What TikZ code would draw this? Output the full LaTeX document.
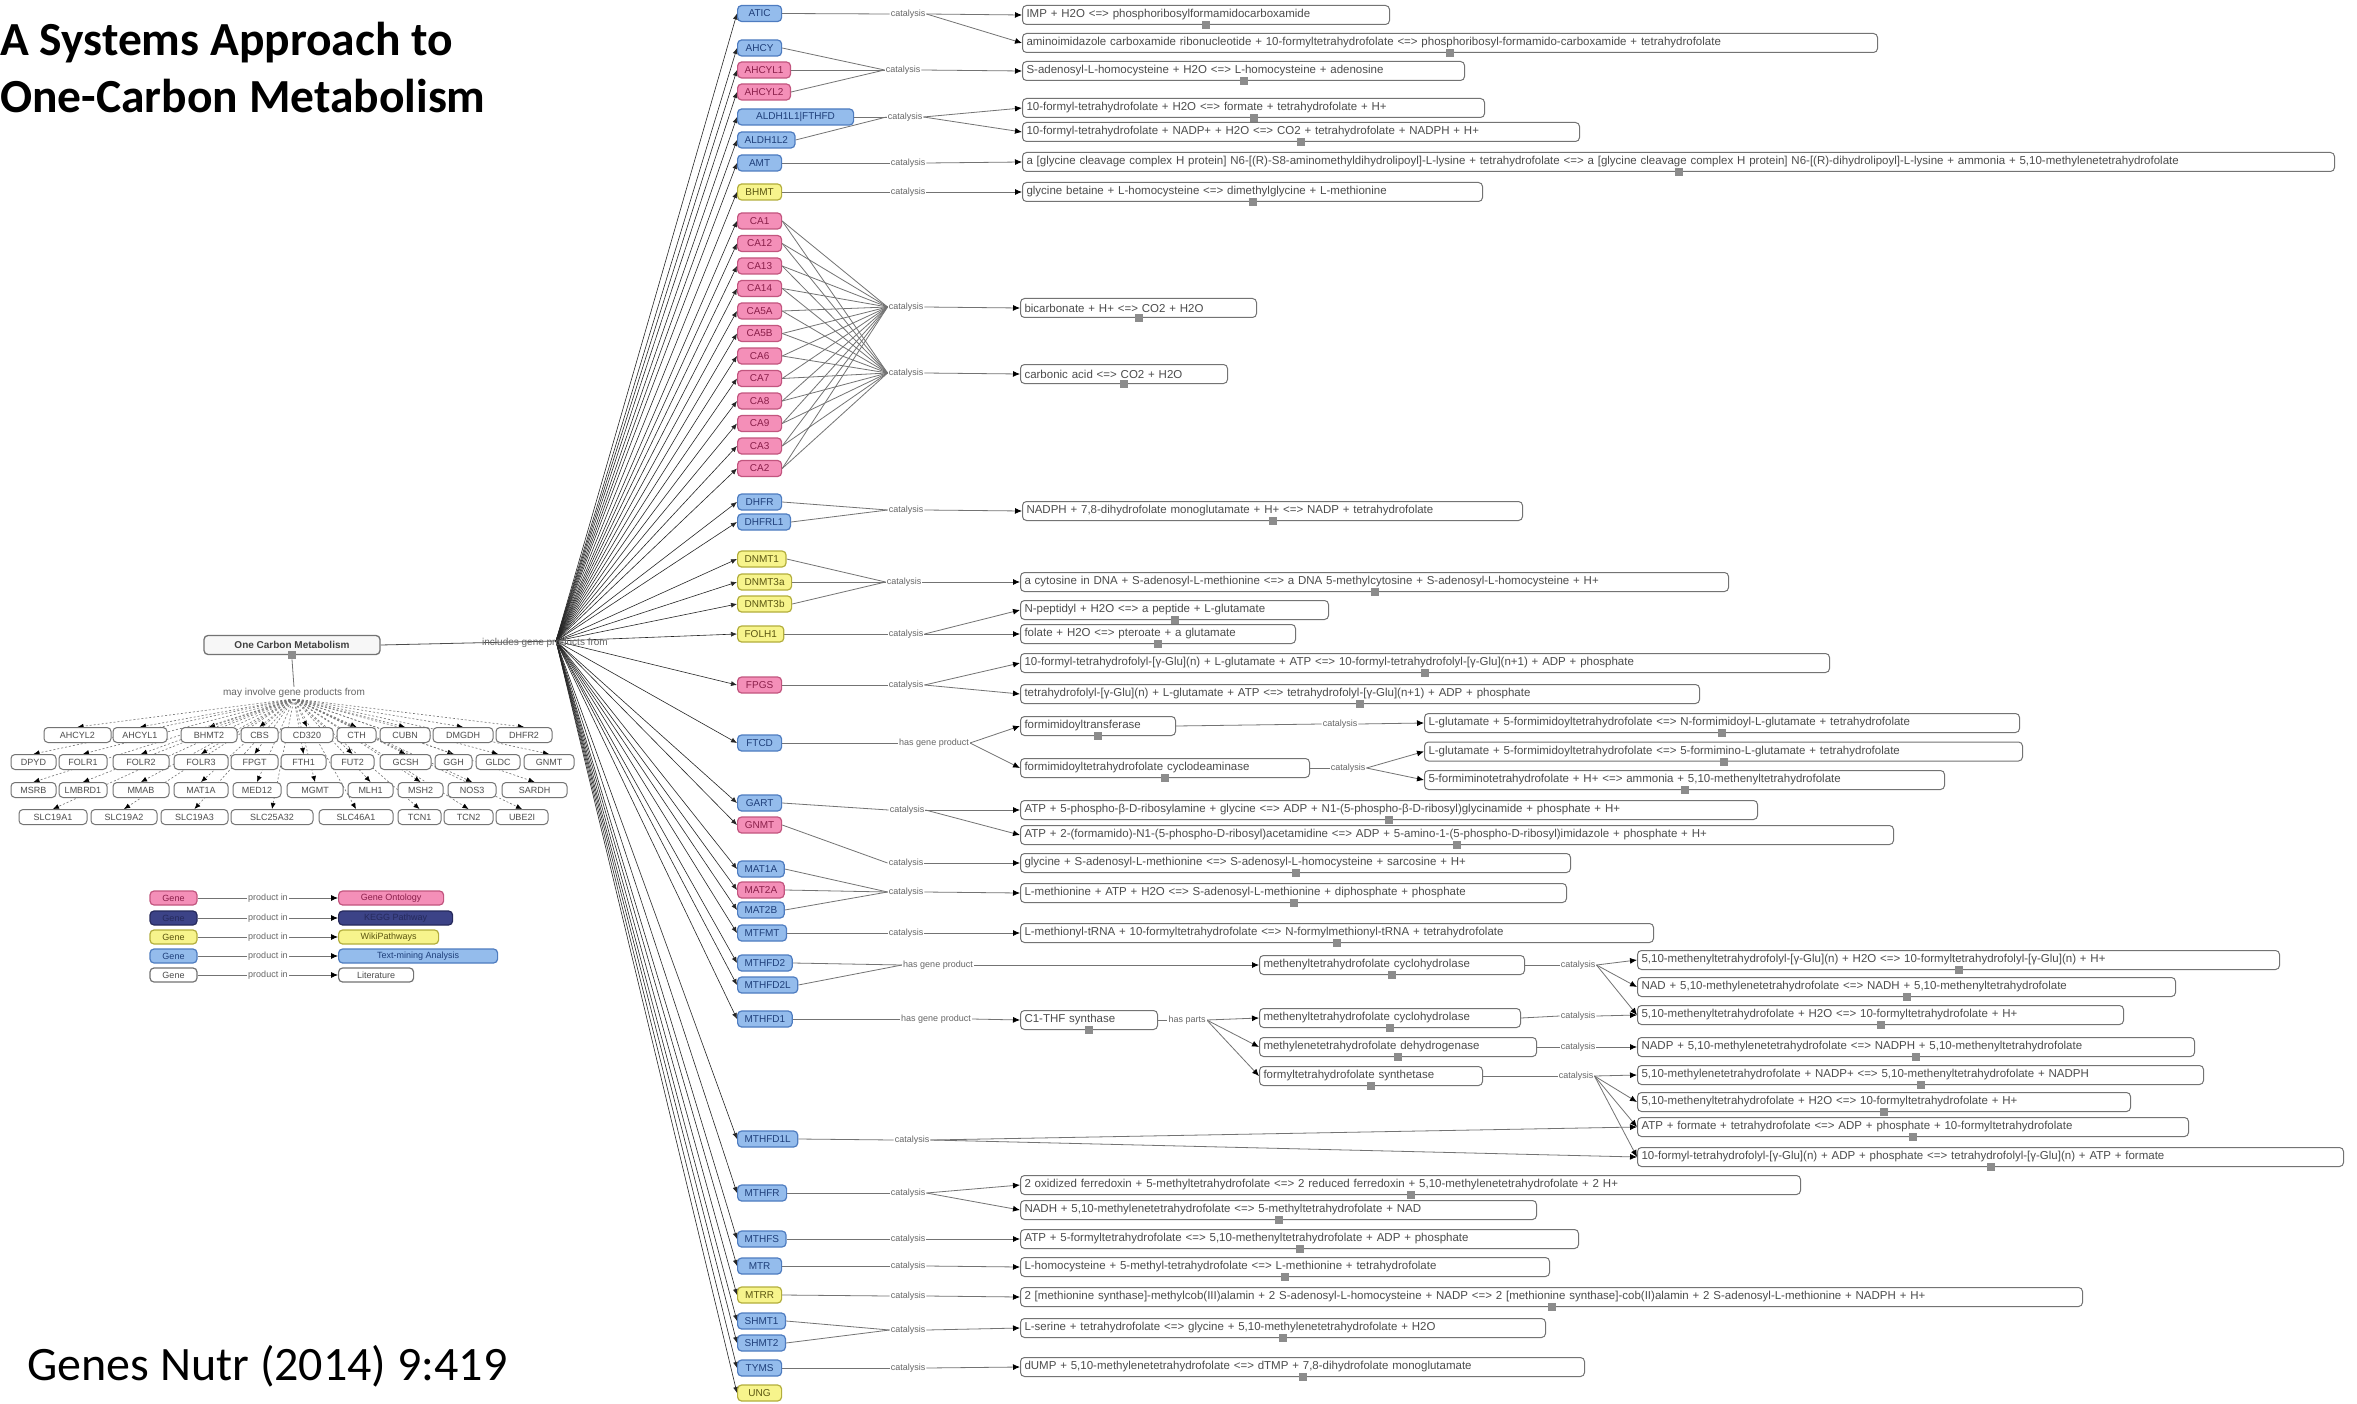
\documentclass[tikz,border=0pt]{standalone}
\usepackage{fontspec}
\setmainfont{Liberation Sans}
\newfontfamily\carl{Carlito}
\usetikzlibrary{arrows.meta}
\pgfdeclarelayer{bg}
\pgfsetlayers{bg,main}
\definecolor{pinkF}{HTML}{F48FB8}
\definecolor{pinkD}{HTML}{C2557F}
\definecolor{pinkT}{HTML}{8A1F4A}
\definecolor{blueF}{HTML}{94BCEC}
\definecolor{blueD}{HTML}{4E7CC0}
\definecolor{blueT}{HTML}{1F3F7A}
\definecolor{yelF}{HTML}{F7F48C}
\definecolor{yelD}{HTML}{B3AE3C}
\definecolor{yelT}{HTML}{5A5510}
\definecolor{navF}{HTML}{3C4387}
\definecolor{navD}{HTML}{262A5C}
\tikzset{
 gene/.style={rectangle, rounded corners=4pt, line width=1.2pt, font=\fontsize{10}{12}\selectfont, inner xsep=7pt, inner ysep=2pt, minimum height=16pt, minimum width=44pt, anchor=west},
 gpink/.style={gene, fill=pinkF, draw=pinkD, text=pinkT},
 gblue/.style={gene, fill=blueF, draw=blueD, text=blueT},
 gyel/.style={gene, fill=yelF, draw=yelD, text=yelT},
 gnav/.style={gene, fill=navF, draw=navD, text=navD},
 gwhite/.style={gene, fill=white, draw=black!55, text=black!70},
 rxn/.style={rectangle, rounded corners=4pt, draw=black!55, line width=1pt, fill=white, font=\fontsize{11.5}{13}\selectfont, text=black!70, inner xsep=4pt, inner ysep=2pt, minimum height=19pt, anchor=west, align=left},
 hdl/.style={rectangle, fill=black!45, minimum size=8pt, inner sep=0pt},
 lab/.style={font=\fontsize{9}{11}\selectfont, text=black!60, fill=white, inner sep=1pt},
 edge/.style={draw=black!55, line width=0.8pt},
 arr/.style={edge, -{Latex[length=7pt,width=6pt,color=black]}},
 fan/.style={draw=black!85, line width=0.6pt, -{Latex[length=6pt,width=5pt]}},
 gfan/.style={draw=black!55, line width=0.6pt, dash pattern=on 2pt off 2pt, -{Latex[length=6pt,width=5pt,color=black]}},
 gbox/.style={rectangle, rounded corners=4pt, draw=black!55, line width=1pt, fill=white, font=\fontsize{9}{11}\selectfont, text=black!70, inner xsep=2pt, inner ysep=2pt, minimum height=15pt},
}
\newcommand\rxnbox[5]{\node[rxn,text width=\dimexpr #4pt-8pt\relax] (#1) at (#2,#3) {#5};\node[hdl] at (#1.south) {};}
\begin{document}
\begin{tikzpicture}[x=1pt,y=-1pt]
\useasboundingbox (0,0) rectangle (2357,1404);
\begin{pgfonlayer}{bg}
\fill[white] (0,0) rectangle (2357,1404);
\end{pgfonlayer}

% ---------- titles ----------
\node[anchor=base west, inner sep=0pt, font=\carl\bfseries\fontsize{47.5}{56}\selectfont] (t1) at (0,56) {A Systems Approach to};
\node[anchor=base west, inner sep=0pt, font=\carl\bfseries\fontsize{47.5}{56}\selectfont] (t2) at (0,113) {One-Carbon Metabolism};
\node[anchor=base west, inner sep=0pt, font=\carl\fontsize{48}{56}\selectfont] (cite) at (27,1380) {Genes Nutr (2014) 9:419};

% ---------- left root node ----------
\node[rectangle, rounded corners=4pt, draw=black!55, line width=1.3pt, fill=black!3, font=\bfseries\fontsize{10}{12}\selectfont, text=black!75, minimum width=176pt, minimum height=19pt] (OCM) at (292,645) {One Carbon Metabolism};
\node[hdl] (OCMh) at (OCM.south) {};
\node[font=\fontsize{10}{12}\selectfont, text=black!60, inner sep=1pt] (TL) at (545,643) {includes gene products from};
\coordinate (O) at (556,641);
\node[lab, font=\fontsize{10}{12}\selectfont] (GL) at (294,693) {may involve gene products from};

% ---------- gene grid ----------
\node[gbox, minimum width=67pt] (a1) at (77.5,735) {AHCYL2};
\node[gbox, minimum width=54pt] (a2) at (140,735) {AHCYL1};
\node[gbox, minimum width=56pt] (a3) at (209,735) {BHMT2};
\node[gbox, minimum width=37pt] (a4) at (259.5,735) {CBS};
\node[gbox, minimum width=52pt] (a5) at (307,735) {CD320};
\node[gbox, minimum width=39pt] (a6) at (356.5,735) {CTH};
\node[gbox, minimum width=50pt] (a7) at (405,735) {CUBN};
\node[gbox, minimum width=60pt] (a8) at (463,735) {DMGDH};
\node[gbox, minimum width=56pt] (a9) at (524,735) {DHFR2};
\node[gbox, minimum width=45pt] (b1) at (33.5,762) {DPYD};
\node[gbox, minimum width=48pt] (b2) at (83,762) {FOLR1};
\node[gbox, minimum width=56pt] (b3) at (141,762) {FOLR2};
\node[gbox, minimum width=54pt] (b4) at (201,762) {FOLR3};
\node[gbox, minimum width=47pt] (b5) at (254.5,762) {FPGT};
\node[gbox, minimum width=45pt] (b6) at (303.5,762) {FTH1};
\node[gbox, minimum width=43pt] (b7) at (352.5,762) {FUT2};
\node[gbox, minimum width=51pt] (b8) at (405.5,762) {GCSH};
\node[gbox, minimum width=37pt] (b9) at (453.5,762) {GGH};
\node[gbox, minimum width=44pt] (b10) at (498,762) {GLDC};
\node[gbox, minimum width=50pt] (b11) at (549,762) {GNMT};
\node[gbox, minimum width=45pt] (c1) at (33.5,790) {MSRB};
\node[gbox, minimum width=48pt] (c2) at (83,790) {LMBRD1};
\node[gbox, minimum width=56pt] (c3) at (141,790) {MMAB};
\node[gbox, minimum width=54pt] (c4) at (201,790) {MAT1A};
\node[gbox, minimum width=48pt] (c5) at (257,790) {MED12};
\node[gbox, minimum width=56pt] (c6) at (315,790) {MGMT};
\node[gbox, minimum width=45pt] (c7) at (370.5,790) {MLH1};
\node[gbox, minimum width=45pt] (c8) at (420.5,790) {MSH2};
\node[gbox, minimum width=48pt] (c9) at (472,790) {NOS3};
\node[gbox, minimum width=65pt] (c10) at (534.5,790) {SARDH};
\node[gbox, minimum width=68pt] (d1) at (53,817) {SLC19A1};
\node[gbox, minimum width=66pt] (d2) at (124,817) {SLC19A2};
\node[gbox, minimum width=67pt] (d3) at (194.5,817) {SLC19A3};
\node[gbox, minimum width=82pt] (d4) at (272,817) {SLC25A32};
\node[gbox, minimum width=74pt] (d5) at (356,817) {SLC46A1};
\node[gbox, minimum width=43pt] (d6) at (419.5,817) {TCN1};
\node[gbox, minimum width=49pt] (d7) at (468.5,817) {TCN2};
\node[gbox, minimum width=52pt] (d8) at (522,817) {UBE2I};

% ---------- legend ----------
\node[gpink, anchor=center, minimum width=47pt, minimum height=14pt, font=\fontsize{9}{11}\selectfont] (L1a) at (173.5,898) {Gene};
\node[gnav, anchor=center, minimum width=47pt, minimum height=14pt, font=\fontsize{9}{11}\selectfont] (L2a) at (173.5,918) {Gene};
\node[gyel, anchor=center, minimum width=47pt, minimum height=14pt, font=\fontsize{9}{11}\selectfont] (L3a) at (173.5,937) {Gene};
\node[gblue, anchor=center, minimum width=47pt, minimum height=14pt, font=\fontsize{9}{11}\selectfont] (L4a) at (173.5,956) {Gene};
\node[gwhite, anchor=center, minimum width=47pt, minimum height=14pt, font=\fontsize{9}{11}\selectfont] (L5a) at (173.5,975) {Gene};
\node[gpink, minimum width=105pt, minimum height=14pt, font=\fontsize{9}{11}\selectfont] (L1b) at (338,898) {Gene Ontology};
\node[gnav, minimum width=114pt, minimum height=14pt, font=\fontsize{9}{11}\selectfont] (L2b) at (338,918) {KEGG Pathway};
\node[gyel, minimum width=100pt, minimum height=14pt, font=\fontsize{9}{11}\selectfont] (L3b) at (338,937) {WikiPathways};
\node[gblue, minimum width=159pt, minimum height=14pt, font=\fontsize{9}{11}\selectfont] (L4b) at (338,956) {Text-mining Analysis};
\node[gwhite, minimum width=75pt, minimum height=14pt, font=\fontsize{9}{11}\selectfont] (L5b) at (338,975) {Literature};
\foreach \r/\yy in {1/898,2/918,3/937,4/956,5/975}{
  \node[lab] (Lp\r) at (268,\yy) {product in};
  \begin{pgfonlayer}{bg}
  \draw[arr] (L\r a.east) -- (L\r b.west);
  \end{pgfonlayer}
}

% ---------- gene column ----------
\node[gblue] (ATIC) at (737,13.5) {ATIC};
\node[gblue] (AHCY) at (737,48) {AHCY};
\node[gpink] (AHCYLa) at (737,70) {AHCYL1};
\node[gpink] (AHCYLb) at (737,92) {AHCYL2};
\node[gblue, minimum width=116pt] (ALDHa) at (737,117) {ALDH1L1|FTHFD};
\node[gblue] (ALDHb) at (737,140) {ALDH1L2};
\node[gblue] (AMT) at (737,163) {AMT};
\node[gyel] (BHMT) at (737,192) {BHMT};
\foreach \i/\t [count=\k from 0] in {a/CA1,b/CA12,c/CA13,d/CA14,e/CA5A,f/CA5B,g/CA6,h/CA7,i/CA8,j/CA9,k/CA3,l/CA2}
  \node[gpink] (CA\i) at (737,{221+22.5*\k}) {\t};
\node[gblue] (DHFR) at (737,502) {DHFR};
\node[gblue] (DHFRL) at (737,522) {DHFRL1};
\node[gyel] (DNMTa) at (737,559) {DNMT1};
\node[gyel] (DNMTb) at (737,582) {DNMT3a};
\node[gyel] (DNMTc) at (737,604) {DNMT3b};
\node[gyel] (FOLH) at (737,634) {FOLH1};
\node[gpink] (FPGS) at (737,685) {FPGS};
\node[gblue] (FTCD) at (737,743) {FTCD};
\node[gblue] (GART) at (737,803) {GART};
\node[gpink] (GNMT) at (737,825) {GNMT};
\node[gblue] (MATa) at (737,869) {MAT1A};
\node[gpink] (MATb) at (737,890) {MAT2A};
\node[gblue] (MATc) at (737,910) {MAT2B};
\node[gblue] (MTFMT) at (737,933) {MTFMT};
\node[gblue] (MTHFDb) at (737,963) {MTHFD2};
\node[gblue] (MTHFDc) at (737,985) {MTHFD2L};
\node[gblue] (MTHFDa) at (737,1019) {MTHFD1};
\node[gblue] (MTHFDL) at (737,1139) {MTHFD1L};
\node[gblue] (MTHFR) at (737,1193) {MTHFR};
\node[gblue] (MTHFS) at (737,1239) {MTHFS};
\node[gblue] (MTR) at (737,1266) {MTR};
\node[gyel] (MTRR) at (737,1295) {MTRR};
\node[gblue] (SHMTa) at (737,1321) {SHMT1};
\node[gblue] (SHMTb) at (737,1343) {SHMT2};
\node[gblue] (TYMS) at (737,1368) {TYMS};
\node[gyel] (UNG) at (737,1393) {UNG};

% ---------- reaction / product boxes ----------
\rxnbox{R1}{1022}{15}{367}{IMP + H2O <=> phosphoribosylformamidocarboxamide}
\rxnbox{R2}{1022}{43}{855}{aminoimidazole carboxamide ribonucleotide + 10-formyltetrahydrofolate <=> phosphoribosyl-formamido-carboxamide + tetrahydrofolate}
\rxnbox{R3}{1022}{71}{442}{S-adenosyl-L-homocysteine + H2O <=> L-homocysteine + adenosine}
\rxnbox{R4}{1022}{108}{462}{10-formyl-tetrahydrofolate + H2O <=> formate + tetrahydrofolate + H+}
\rxnbox{R5}{1022}{132}{557}{10-formyl-tetrahydrofolate + NADP+ + H2O <=> CO2 + tetrahydrofolate + NADPH + H+}
\rxnbox{R6}{1022}{162}{1312}{a [glycine cleavage complex H protein] N6-[(R)-S8-aminomethyldihydrolipoyl]-L-lysine + tetrahydrofolate <=> a [glycine cleavage complex H protein] N6-[(R)-dihydrolipoyl]-L-lysine + ammonia + 5,10-methylenetetrahydrofolate}
\rxnbox{R7}{1022}{192}{460}{glycine betaine + L-homocysteine <=> dimethylglycine + L-methionine}
\rxnbox{R8}{1020}{308}{236}{bicarbonate + H+ <=> CO2 + H2O}
\rxnbox{R9}{1020}{374}{207}{carbonic acid <=> CO2 + H2O}
\rxnbox{R10}{1022}{511}{500}{NADPH + 7,8-dihydrofolate monoglutamate + H+ <=> NADP + tetrahydrofolate}
\rxnbox{R11}{1020}{582}{708}{a cytosine in DNA + S-adenosyl-L-methionine <=> a DNA 5-methylcytosine + S-adenosyl-L-homocysteine + H+}
\rxnbox{R12}{1020}{610}{308}{N-peptidyl + H2O <=> a peptide + L-glutamate}
\rxnbox{R13}{1020}{634}{275}{folate + H2O <=> pteroate + a glutamate}
\rxnbox{R14}{1020}{663}{809}{10-formyl-tetrahydrofolyl-[γ-Glu](n) + L-glutamate + ATP <=> 10-formyl-tetrahydrofolyl-[γ-Glu](n+1) + ADP + phosphate}
\rxnbox{R15}{1020}{694}{679}{tetrahydrofolyl-[γ-Glu](n) + L-glutamate + ATP <=> tetrahydrofolyl-[γ-Glu](n+1) + ADP + phosphate}
\rxnbox{E1}{1020}{726}{155}{formimidoyltransferase}
\rxnbox{E2}{1020}{768}{289}{formimidoyltetrahydrofolate cyclodeaminase}
\rxnbox{R16}{1424}{723}{595}{L-glutamate + 5-formimidoyltetrahydrofolate <=> N-formimidoyl-L-glutamate + tetrahydrofolate}
\rxnbox{R17}{1424}{751.5}{598}{L-glutamate + 5-formimidoyltetrahydrofolate <=> 5-formimino-L-glutamate + tetrahydrofolate}
\rxnbox{R18}{1424}{780}{520}{5-formiminotetrahydrofolate + H+ <=> ammonia + 5,10-methenyltetrahydrofolate}
\rxnbox{R19}{1020}{810}{737}{ATP + 5-phospho-β-D-ribosylamine + glycine <=> ADP + N1-(5-phospho-β-D-ribosyl)glycinamide + phosphate + H+}
\rxnbox{R20}{1020}{835}{873}{ATP + 2-(formamido)-N1-(5-phospho-D-ribosyl)acetamidine <=> ADP + 5-amino-1-(5-phospho-D-ribosyl)imidazole + phosphate + H+}
\rxnbox{R21}{1020}{863}{550}{glycine + S-adenosyl-L-methionine <=> S-adenosyl-L-homocysteine + sarcosine + H+}
\rxnbox{R22}{1020}{893}{546}{L-methionine + ATP + H2O <=> S-adenosyl-L-methionine + diphosphate + phosphate}
\rxnbox{R23}{1020}{933}{633}{L-methionyl-tRNA + 10-formyltetrahydrofolate <=> N-formylmethionyl-tRNA + tetrahydrofolate}
\rxnbox{E3}{1259}{965}{265}{methenyltetrahydrofolate cyclohydrolase}
\rxnbox{E4}{1020}{1020}{137}{C1-THF synthase}
\rxnbox{E5}{1259}{1018}{261}{methenyltetrahydrofolate cyclohydrolase}
\rxnbox{E6}{1259}{1047}{277}{methylenetetrahydrofolate dehydrogenase}
\rxnbox{E7}{1259}{1076}{223}{formyltetrahydrofolate synthetase}
\rxnbox{R24}{1637}{960}{642}{5,10-methenyltetrahydrofolyl-[γ-Glu](n) + H2O <=> 10-formyltetrahydrofolyl-[γ-Glu](n) + H+}
\rxnbox{R25}{1637}{987}{538}{NAD + 5,10-methylenetetrahydrofolate <=> NADH + 5,10-methenyltetrahydrofolate}
\rxnbox{R26}{1637}{1015}{486}{5,10-methenyltetrahydrofolate + H2O <=> 10-formyltetrahydrofolate + H+}
\rxnbox{R27}{1637}{1047}{557}{NADP + 5,10-methylenetetrahydrofolate <=> NADPH + 5,10-methenyltetrahydrofolate}
\rxnbox{R28}{1637}{1075}{566}{5,10-methylenetetrahydrofolate + NADP+ <=> 5,10-methenyltetrahydrofolate + NADPH}
\rxnbox{R29}{1637}{1102}{493}{5,10-methenyltetrahydrofolate + H2O <=> 10-formyltetrahydrofolate + H+}
\rxnbox{R30}{1637}{1127}{551}{ATP + formate + tetrahydrofolate <=> ADP + phosphate + 10-formyltetrahydrofolate}
\rxnbox{R31}{1637}{1157}{706}{10-formyl-tetrahydrofolyl-[γ-Glu](n) + ADP + phosphate <=> tetrahydrofolyl-[γ-Glu](n) + ATP + formate}
\rxnbox{R32}{1020}{1185}{780}{2 oxidized ferredoxin + 5-methyltetrahydrofolate <=> 2 reduced ferredoxin + 5,10-methylenetetrahydrofolate + 2 H+}
\rxnbox{R33}{1020}{1210}{516}{NADH + 5,10-methylenetetrahydrofolate <=> 5-methyltetrahydrofolate + NAD}
\rxnbox{R34}{1020}{1239}{558}{ATP + 5-formyltetrahydrofolate <=> 5,10-methenyltetrahydrofolate + ADP + phosphate}
\rxnbox{R35}{1020}{1267}{529}{L-homocysteine + 5-methyl-tetrahydrofolate <=> L-methionine + tetrahydrofolate}
\rxnbox{R36}{1020}{1297}{1062}{2 [methionine synthase]-methylcob(III)alamin + 2 S-adenosyl-L-homocysteine + NADP <=> 2 [methionine synthase]-cob(II)alamin + 2 S-adenosyl-L-methionine + NADPH + H+}
\rxnbox{R37}{1020}{1328}{525}{L-serine + tetrahydrofolate <=> glycine + 5,10-methylenetetrahydrofolate + H2O}
\rxnbox{R38}{1020}{1367}{564}{dUMP + 5,10-methylenetetrahydrofolate <=> dTMP + 7,8-dihydrofolate monoglutamate}

% ---------- edge labels ----------
\node[lab] (lATIC) at (908,14) {catalysis};
\node[lab] (lAHCY) at (903,70) {catalysis};
\node[lab] (lALDH) at (905,117) {catalysis};
\node[lab] (lAMT) at (908,163) {catalysis};
\node[lab] (lBHMT) at (908,192) {catalysis};
\node[lab] (lCAa) at (906,307) {catalysis};
\node[lab] (lCAb) at (906,373) {catalysis};
\node[lab] (lDHFR) at (906,510) {catalysis};
\node[lab] (lDNMT) at (904,582) {catalysis};
\node[lab] (lFOLH) at (906,634) {catalysis};
\node[lab] (lFPGS) at (906,685) {catalysis};
\node[lab] (lFTCD) at (934,743) {has gene product};
\node[lab] (lE1) at (1340,724) {catalysis};
\node[lab] (lE2) at (1348,768) {catalysis};
\node[lab] (lGART) at (907,810) {catalysis};
\node[lab] (lGNMT) at (906,863) {catalysis};
\node[lab] (lMAT) at (906,892) {catalysis};
\node[lab] (lMTFMT) at (906,933) {catalysis};
\node[lab] (lMTHFDb) at (938,965) {has gene product};
\node[lab] (lE3) at (1578,965) {catalysis};
\node[lab] (lMTHFDa) at (936,1019) {has gene product};
\node[lab] (lE4) at (1187,1020) {has parts};
\node[lab] (lE5) at (1578,1016) {catalysis};
\node[lab] (lE6) at (1578,1047) {catalysis};
\node[lab] (lE7) at (1576,1076) {catalysis};
\node[lab] (lMTHFDL) at (912,1140) {catalysis};
\node[lab] (lMTHFR) at (908,1193) {catalysis};
\node[lab] (lMTHFS) at (908,1239) {catalysis};
\node[lab] (lMTR) at (908,1266) {catalysis};
\node[lab] (lMTRR) at (908,1296) {catalysis};
\node[lab] (lSHMT) at (908,1330) {catalysis};
\node[lab] (lTYMS) at (908,1368) {catalysis};

% ---------- connectors ----------
\begin{pgfonlayer}{bg}
\draw[draw=black!70, line width=0.8pt] (OCM.east) -- (O);
\foreach \g in {ATIC,AHCY,AHCYLa,AHCYLb,ALDHa,ALDHb,AMT,BHMT,CAa,CAb,CAc,CAd,CAe,CAf,CAg,CAh,CAi,CAj,CAk,CAl,DHFR,DHFRL,DNMTa,DNMTb,DNMTc,FOLH,FPGS,FTCD,GART,GNMT,MATa,MATb,MATc,MTFMT,MTHFDb,MTHFDc,MTHFDa,MTHFDL,MTHFR,MTHFS,MTR,MTRR,SHMTa,SHMTb,TYMS,UNG}
  \draw[fan] (O) -- (\g.west);
\draw[edge] (OCMh.south) -- (GL.north);
\foreach \g in {a1,a2,a3,a4,a5,a6,a7,a8,a9,b1,b2,b3,b4,b5,b6,b7,b8,b9,b10,b11,c1,c2,c3,c4,c5,c6,c7,c8,c9,c10,d1,d2,d3,d4,d5,d6,d7,d8}
  \draw[gfan] (GL.south) -- (\g.north);
\draw[edge] (ATIC.east) -- (lATIC.west);
\foreach \g in {AHCY,AHCYLa,AHCYLb} \draw[edge] (\g.east) -- (lAHCY.west);
\foreach \g in {ALDHa,ALDHb} \draw[edge] (\g.east) -- (lALDH.west);
\draw[edge] (AMT.east) -- (lAMT.west);
\draw[edge] (BHMT.east) -- (lBHMT.west);
\foreach \i in {a,b,c,d,e,f,g,h,i,j,k,l}{
  \draw[edge] (CA\i.east) -- (lCAa.west);
  \draw[edge] (CA\i.east) -- (lCAb.west);
}
\foreach \g in {DHFR,DHFRL} \draw[edge] (\g.east) -- (lDHFR.west);
\foreach \g in {DNMTa,DNMTb,DNMTc} \draw[edge] (\g.east) -- (lDNMT.west);
\draw[edge] (FOLH.east) -- (lFOLH.west);
\draw[edge] (FPGS.east) -- (lFPGS.west);
\draw[edge] (FTCD.east) -- (lFTCD.west);
\draw[edge] (E1.east) -- (lE1.west);
\draw[edge] (E2.east) -- (lE2.west);
\draw[edge] (GART.east) -- (lGART.west);
\draw[edge] (GNMT.east) -- (lGNMT.west);
\foreach \g in {MATa,MATb,MATc} \draw[edge] (\g.east) -- (lMAT.west);
\draw[edge] (MTFMT.east) -- (lMTFMT.west);
\foreach \g in {MTHFDb,MTHFDc} \draw[edge] (\g.east) -- (lMTHFDb.west);
\draw[edge] (E3.east) -- (lE3.west);
\draw[edge] (MTHFDa.east) -- (lMTHFDa.west);
\draw[edge] (E4.east) -- (lE4.west);
\draw[edge] (E5.east) -- (lE5.west);
\draw[edge] (E6.east) -- (lE6.west);
\draw[edge] (E7.east) -- (lE7.west);
\draw[edge] (MTHFDL.east) -- (lMTHFDL.west);
\draw[edge] (MTHFR.east) -- (lMTHFR.west);
\draw[edge] (MTHFS.east) -- (lMTHFS.west);
\draw[edge] (MTR.east) -- (lMTR.west);
\draw[edge] (MTRR.east) -- (lMTRR.west);
\foreach \g in {SHMTa,SHMTb} \draw[edge] (\g.east) -- (lSHMT.west);
\draw[edge] (TYMS.east) -- (lTYMS.west);
\foreach \a/\b in {lATIC/R1,lATIC/R2,lAHCY/R3,lALDH/R4,lALDH/R5,lAMT/R6,lBHMT/R7,lCAa/R8,lCAb/R9,lDHFR/R10,lDNMT/R11,lFOLH/R12,lFOLH/R13,lFPGS/R14,lFPGS/R15,lFTCD/E1,lFTCD/E2,lE1/R16,lE2/R17,lE2/R18,lGART/R19,lGART/R20,lGNMT/R21,lMAT/R22,lMTFMT/R23,lMTHFDb/E3,lE3/R24,lE3/R25,lE3/R26,lMTHFDa/E4,lE4/E5,lE4/E6,lE4/E7,lE5/R26,lE6/R27,lE7/R28,lE7/R29,lE7/R30,lE7/R31,lMTHFDL/R30,lMTHFDL/R31,lMTHFR/R32,lMTHFR/R33,lMTHFS/R34,lMTR/R35,lMTRR/R36,lSHMT/R37,lTYMS/R38}
  \draw[arr] (\a.east) -- (\b.west);
\end{pgfonlayer}
\end{tikzpicture}
\end{document}
